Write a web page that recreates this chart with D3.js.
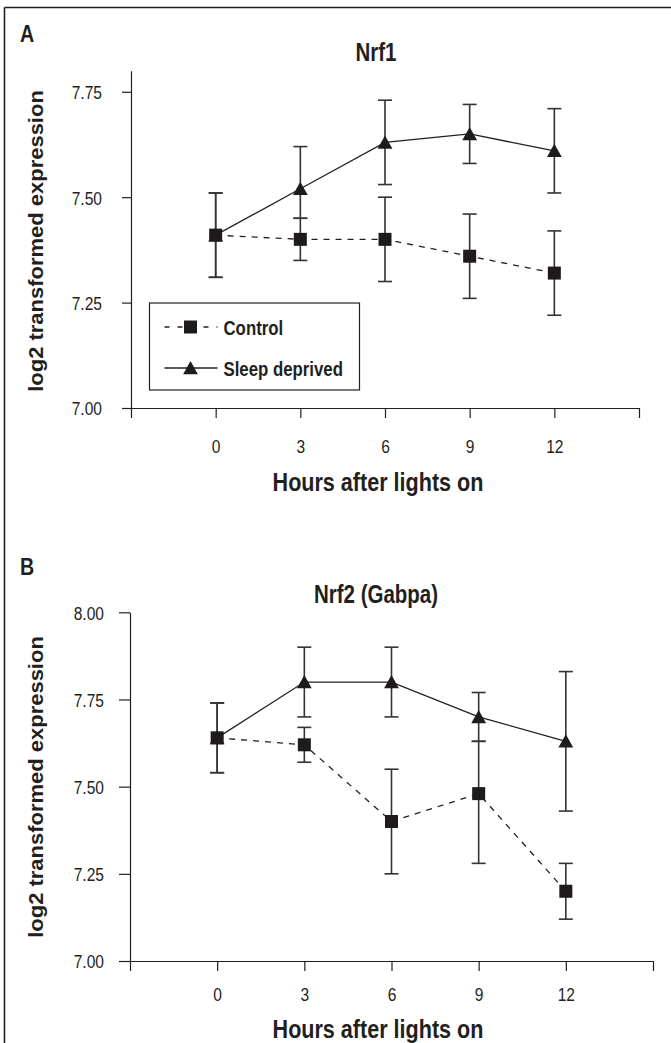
<!DOCTYPE html>
<html>
<head>
<meta charset="utf-8">
<script src="https://cdn.jsdelivr.net/npm/d3@7"></script>
<style>
  html, body { margin: 0; padding: 0; background: #fff; }
  svg { display: block; }
  text { font-family: "Liberation Sans", Arial, Helvetica, sans-serif; fill: #231f20; }
</style>
</head>
<body>
<script>
// ---------------- data ----------------
const hours = [0, 3, 6, 9, 12];
const xTicks = [-3, 0, 3, 6, 9, 12, 15];
const xTickLabels = ["", "0", "3", "6", "9", "12", ""];
const seriesNames = ["Control", "Sleep deprived"];

const nrf1Control     = [7.41, 7.40, 7.40, 7.36, 7.32];
const nrf1ControlLow  = [7.31, 7.35, 7.30, 7.26, 7.22];
const nrf1ControlHigh = [7.51, 7.45, 7.50, 7.46, 7.42];
const nrf1Sleep       = [7.41, 7.52, 7.63, 7.65, 7.61];
const nrf1SleepLow    = [7.31, 7.45, 7.53, 7.58, 7.51];
const nrf1SleepHigh   = [7.51, 7.62, 7.73, 7.72, 7.71];
const nrf1YTicks = [7.00, 7.25, 7.50, 7.75];

const nrf2Control     = [7.64, 7.62, 7.40, 7.48, 7.20];
const nrf2ControlLow  = [7.54, 7.57, 7.25, 7.28, 7.12];
const nrf2ControlHigh = [7.74, 7.67, 7.55, 7.63, 7.28];
const nrf2Sleep       = [7.64, 7.80, 7.80, 7.70, 7.63];
const nrf2SleepLow    = [7.54, 7.70, 7.70, 7.63, 7.43];
const nrf2SleepHigh   = [7.74, 7.90, 7.90, 7.77, 7.83];
const nrf2YTicks = [7.00, 7.25, 7.50, 7.75, 8.00];

// ---------------- layout ----------------
const W = 671, H = 1043;
const SX = 0.82; // horizontal condensing of the lettering
const ink = "#231f20";

const svg = d3.select("body").append("svg").attr("width", W).attr("height", H);

// outer frame (top and left edges)
svg.append("line").attr("x1", 4.5).attr("x2", W).attr("y1", 7.5).attr("y2", 7.5)
  .attr("stroke", ink).attr("stroke-width", 1.6);
svg.append("line").attr("x1", 4.5).attr("x2", 4.5).attr("y1", 7.5).attr("y2", H)
  .attr("stroke", ink).attr("stroke-width", 1.6);

function label(x, y, str, size, weight, anchor, sx) {
  return svg.append("text")
    .attr("transform", `translate(${x},${y}) scale(${sx},1)`)
    .attr("text-anchor", anchor)
    .style("font-size", size + "px")
    .style("font-weight", weight)
    .text(str);
}

function trianglePath(s) {
  return `M0,${-7 * s}L${7.4 * s},${6.3 * s}L${-7.4 * s},${6.3 * s}Z`;
}

function panel(cfg) {
  const x = d3.scaleLinear().domain([-3, 15]).range(cfg.xRange);
  const y = d3.scaleLinear().domain(cfg.yDomain).range(cfg.yRange);
  const g = svg.append("g");

  // panel letter and title
  label(cfg.letterPos[0], cfg.letterPos[1], cfg.letter, 24, "bold", "start", SX);
  label(cfg.titlePos[0], cfg.titlePos[1], cfg.title, 25, "bold", "middle", SX);

  // y axis
  const yAx = g.append("g").attr("transform", `translate(${cfg.xRange[0]},0)`)
    .call(d3.axisLeft(y).tickValues(cfg.yTicks).tickFormat(d3.format(".2f"))
      .tickSize(cfg.yTickSize).tickSizeOuter(0).tickPadding(0));
  yAx.select(".domain").attr("stroke", ink).attr("stroke-width", 1.2);
  yAx.selectAll(".tick line").attr("stroke", ink).attr("stroke-width", 1.2);
  yAx.selectAll(".tick text")
    .attr("x", -cfg.yLabelGap / SX).attr("dy", "0.36em")
    .attr("transform", `scale(${SX},1)`)
    .style("font-size", "19px").attr("fill", ink);

  // x axis
  const xAx = g.append("g").attr("transform", `translate(0,${cfg.yRange[0]})`)
    .call(d3.axisBottom(x).tickValues(xTicks).tickFormat((d, i) => xTickLabels[i])
      .tickSize(10).tickSizeOuter(0).tickPadding(0));
  xAx.select(".domain").attr("stroke", ink).attr("stroke-width", 1.2);
  xAx.selectAll(".tick line").attr("stroke", ink).attr("stroke-width", 1.2);
  xAx.selectAll(".tick text")
    .attr("y", cfg.xLabelBase).attr("dy", "0")
    .attr("transform", `scale(${SX},1)`)
    .style("font-size", "19px").attr("fill", ink);

  // axis titles
  label(cfg.xTitlePos[0], cfg.xTitlePos[1], "Hours after lights on", 26, "bold", "middle", 0.83);
  svg.append("text")
    .attr("transform", `translate(${cfg.yTitlePos[0]},${cfg.yTitlePos[1]}) rotate(-90) scale(1,0.9)`)
    .attr("text-anchor", "middle")
    .style("font-size", "22px").style("font-weight", "bold")
    .text("log2 transformed expression");

  const series = [
    { name: seriesNames[0], v: cfg.ctrl, lo: cfg.ctrlLo, hi: cfg.ctrlHi, dash: "6,6", marker: "square" },
    { name: seriesNames[1], v: cfg.sd, lo: cfg.sdLo, hi: cfg.sdHi, dash: null, marker: "triangle" }
  ];

  // error bars
  series.forEach(s => {
    const eb = g.append("g");
    hours.forEach((h, i) => {
      eb.append("line").attr("x1", x(h)).attr("x2", x(h)).attr("y1", y(s.lo[i])).attr("y2", y(s.hi[i]))
        .attr("stroke", "#333").attr("stroke-width", 1.6);
      [s.lo[i], s.hi[i]].forEach(v => {
        eb.append("line").attr("x1", x(h) - 7).attr("x2", x(h) + 7).attr("y1", y(v)).attr("y2", y(v))
          .attr("stroke", "#333").attr("stroke-width", 1.6);
      });
    });
  });

  // lines
  const line = d3.line().x((d, i) => x(hours[i])).y(d => y(d));
  series.forEach(s => {
    g.append("path").datum(s.v).attr("d", line).attr("fill", "none")
      .attr("stroke", ink).attr("stroke-width", 1.3)
      .attr("stroke-dasharray", s.dash);
  });

  // markers
  series.forEach(s => {
    hours.forEach((h, i) => {
      if (s.marker === "square") {
        g.append("rect").attr("x", x(h) - 6.5).attr("y", y(s.v[i]) - 6.5)
          .attr("width", 13).attr("height", 13).attr("fill", "#1f1b1c");
      } else {
        g.append("path").attr("d", trianglePath(1))
          .attr("transform", `translate(${x(h)},${y(s.v[i])})`).attr("fill", "#1f1b1c");
      }
    });
  });

  // legend
  if (cfg.legend) {
    const L = cfg.legend;
    svg.append("rect").attr("x", L.x).attr("y", L.y).attr("width", L.w).attr("height", L.h)
      .attr("fill", "#fff").attr("stroke", ink).attr("stroke-width", 1.2);
    series.forEach((s, k) => {
      const cy = L.y + L.rowY[k];
      svg.append("line").attr("x1", L.x + 15).attr("x2", L.x + 68).attr("y1", cy).attr("y2", cy)
        .attr("stroke", ink).attr("stroke-width", 1.3).attr("stroke-dasharray", s.dash ? "5,8" : null);
      if (s.marker === "square") {
        svg.append("rect").attr("x", L.x + 41 - 6.5).attr("y", cy - 6.5).attr("width", 13).attr("height", 13)
          .attr("fill", "#1f1b1c");
      } else {
        svg.append("path").attr("d", trianglePath(1)).attr("transform", `translate(${L.x + 41},${cy})`)
          .attr("fill", "#1f1b1c");
      }
      label(L.x + 74, cy + 7.5, s.name, 21, "bold", "start", 0.8);
    });
  }
}

panel({
  letter: "A", letterPos: [20, 42],
  title: "Nrf1", titlePos: [376, 61],
  xRange: [131, 639], yDomain: [7.0, 7.8], yRange: [408, 70.7], yTicks: nrf1YTicks,
  yTickSize: 9, yLabelGap: 29, xLabelBase: 45,
  xTitlePos: [378, 491], yTitlePos: [43, 241],
  ctrl: nrf1Control, ctrlLo: nrf1ControlLow, ctrlHi: nrf1ControlHigh,
  sd: nrf1Sleep, sdLo: nrf1SleepLow, sdHi: nrf1SleepHigh,
  legend: { x: 149.5, y: 303, w: 210, h: 87, rowY: [24, 65] }
});

panel({
  letter: "B", letterPos: [20, 575],
  title: "Nrf2 (Gabpa)", titlePos: [376, 603],
  xRange: [130, 653], yDomain: [7.0, 8.0], yRange: [961, 612.3], yTicks: nrf2YTicks,
  yTickSize: 11, yLabelGap: 26, xLabelBase: 40,
  xTitlePos: [378, 1038], yTitlePos: [43, 787],
  ctrl: nrf2Control, ctrlLo: nrf2ControlLow, ctrlHi: nrf2ControlHigh,
  sd: nrf2Sleep, sdLo: nrf2SleepLow, sdHi: nrf2SleepHigh,
  legend: null
});
</script>
</body>
</html>
